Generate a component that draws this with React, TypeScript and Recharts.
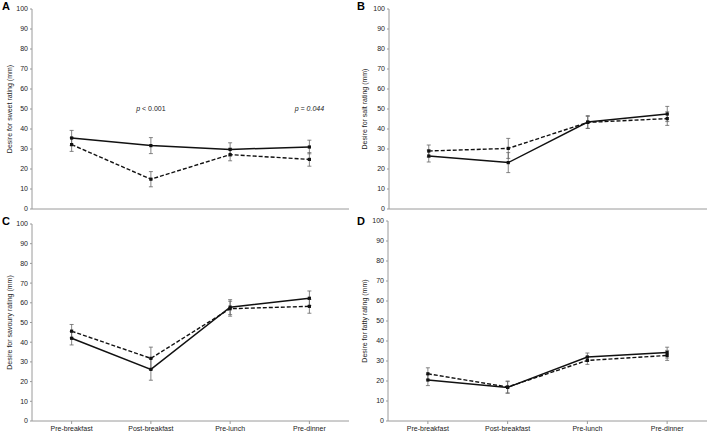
import React from "react";
import { ErrorBar, Line, LineChart, ReferenceDot, XAxis, YAxis } from "recharts";

const categories = ["Pre-breakfast", "Post-breakfast", "Pre-lunch", "Pre-dinner"];
const yTicks = [0, 10, 20, 30, 40, 50, 60, 70, 80, 90, 100];

const sweetSolid = [35.5, 31.7, 29.8, 31.0];
const sweetSolidErr = [3.8, 4.0, 3.3, 3.4];
const sweetDashed = [32.2, 14.9, 27.2, 24.8];
const sweetDashedErr = [3.4, 3.8, 3.1, 3.4];

const saltSolid = [26.5, 23.2, 43.5, 47.5];
const saltSolidErr = [3.0, 5.0, 3.2, 3.8];
const saltDashed = [29.0, 30.3, 43.3, 45.2];
const saltDashedErr = [3.0, 5.0, 3.0, 3.4];

const savourySolid = [42.0, 26.2, 57.8, 62.3];
const savourySolidErr = [3.4, 5.5, 3.8, 3.7];
const savouryDashed = [45.6, 31.8, 57.0, 58.2];
const savouryDashedErr = [3.4, 5.7, 3.8, 3.5];

const fattySolid = [20.5, 16.8, 32.0, 34.2];
const fattySolidErr = [2.8, 2.9, 2.0, 2.7];
const fattyDashed = [23.6, 17.0, 30.3, 32.8];
const fattyDashedErr = [3.0, 3.0, 2.0, 2.5];

const FONT = "'Liberation Sans', Arial, sans-serif";
const AXIS = "#9a9a9a";

function rows(solid: number[], solidErr: number[], dashed: number[], dashedErr: number[]) {
  return categories.map((name, i) => ({
    name,
    solid: solid[i],
    solidErr: solidErr[i],
    dashed: dashed[i],
    dashedErr: dashedErr[i],
  }));
}

const SquareDot = (props: any) => {
  const { cx, cy } = props;
  if (cx == null || cy == null) return null;
  return <rect x={cx - 1.6} y={cy - 1.6} width={3.2} height={3.2} fill="#111" />;
};

const PLabel = (text: string) => (props: any) => {
  const { viewBox } = props;
  const x = viewBox.x + (viewBox.width || 0) / 2;
  const y = viewBox.y + (viewBox.height || 0) / 2;
  return (
    <text x={x} y={y} textAnchor="middle" dominantBaseline="central" fontSize={7} fontFamily={FONT} fill="#222">
      <tspan fontStyle="italic" fill="#222">p</tspan>
      <tspan fontStyle={text.includes("0.044") ? "italic" : "normal"} fill="#222">{text}</tspan>
    </text>
  );
};

interface PanelProps {
  letter: string;
  title: string;
  data: ReturnType<typeof rows>;
  left: number;
  top: number;
  width: number;
  height: number;
  margin: { top: number; right: number; bottom: number; left: number };
  yWidth: number;
  showLabels: boolean;
  notes?: { x: string; y: number; text: string }[];
}

function Panel({ letter, title, data, left, top, width, height, margin, yWidth, showLabels, notes }: PanelProps) {
  return (
    <div style={{ position: "absolute", left, top, width, height }}>
      <div
        style={{
          position: "absolute",
          left: 2,
          top: 0,
          fontFamily: FONT,
          fontWeight: 700,
          fontSize: 11,
          lineHeight: "13px",
          color: "#000",
          zIndex: 2,
        }}
      >
        {letter}
      </div>
      <LineChart width={width} height={height} data={data} margin={margin}>
        <XAxis
          dataKey="name"
          scale="band"
          stroke={AXIS}
          tickLine={{ stroke: AXIS }}
          tickSize={3}
          height={showLabels ? 13 : 4}
          interval={0}
          tick={showLabels ? { fill: "#222", fontSize: 7, fontFamily: FONT } : false}
        />
        <YAxis
          type="number"
          domain={[0, 100]}
          ticks={yTicks}
          interval={0}
          width={yWidth}
          stroke={AXIS}
          tickLine={{ stroke: AXIS }}
          tickSize={2}
          tick={{ fill: "#222", fontSize: 7, fontFamily: FONT }}
          label={{
            value: title,
            angle: -90,
            position: "insideLeft",
            offset: 10,
            style: { textAnchor: "middle", fontSize: 7, fontFamily: FONT, fill: "#222" },
          }}
        />
        <Line
          type="linear"
          dataKey="dashed"
          stroke="#111"
          strokeWidth={1.4}
          strokeDasharray="4 2"
          dot={<SquareDot />}
          activeDot={false}
          isAnimationActive={false}
        >
          <ErrorBar dataKey="dashedErr" width={2} stroke="#666" strokeWidth={0.8} direction="y" />
        </Line>
        <Line
          type="linear"
          dataKey="solid"
          stroke="#111"
          strokeWidth={1.5}
          dot={<SquareDot />}
          activeDot={false}
          isAnimationActive={false}
        >
          <ErrorBar dataKey="solidErr" width={2} stroke="#666" strokeWidth={0.8} direction="y" />
        </Line>
        {(notes || []).map((n) => (
          <ReferenceDot key={n.text} x={n.x} y={n.y} r={0} stroke="none" fill="none" label={PLabel(n.text)} />
        ))}
      </LineChart>
    </div>
  );
}

export default function App() {
  return (
    <div style={{ position: "fixed", left: 0, top: 0, width: 709, height: 434, background: "#fff", overflow: "hidden" }}>
      <Panel
        letter="A"
        title="Desire for sweet rating (mm)"
        data={rows(sweetSolid, sweetSolidErr, sweetDashed, sweetDashedErr)}
        left={0}
        top={0}
        width={355}
        height={215}
        margin={{ top: 9, right: 6, bottom: 2, left: 0 }}
        yWidth={32}
        showLabels={false}
        notes={[
          { x: "Post-breakfast", y: 50.5, text: " < 0.001" },
          { x: "Pre-dinner", y: 50.5, text: " = 0.044" },
        ]}
      />
      <Panel
        letter="B"
        title="Desire for salt rating (mm)"
        data={rows(saltSolid, saltSolidErr, saltDashed, saltDashedErr)}
        left={355}
        top={0}
        width={354}
        height={215}
        margin={{ top: 9, right: 2, bottom: 2, left: 0 }}
        yWidth={34}
        showLabels={false}
      />
      <Panel
        letter="C"
        title="Desire for savoury rating (mm)"
        data={rows(savourySolid, savourySolidErr, savouryDashed, savouryDashedErr)}
        left={0}
        top={215}
        width={355}
        height={219}
        margin={{ top: 9, right: 6, bottom: 0, left: 0 }}
        yWidth={32}
        showLabels={true}
      />
      <Panel
        letter="D"
        title="Desire for fatty rating (mm)"
        data={rows(fattySolid, fattySolidErr, fattyDashed, fattyDashedErr)}
        left={355}
        top={215}
        width={354}
        height={219}
        margin={{ top: 6, right: 2, bottom: 0, left: 0 }}
        yWidth={33}
        showLabels={true}
      />
    </div>
  );
}
